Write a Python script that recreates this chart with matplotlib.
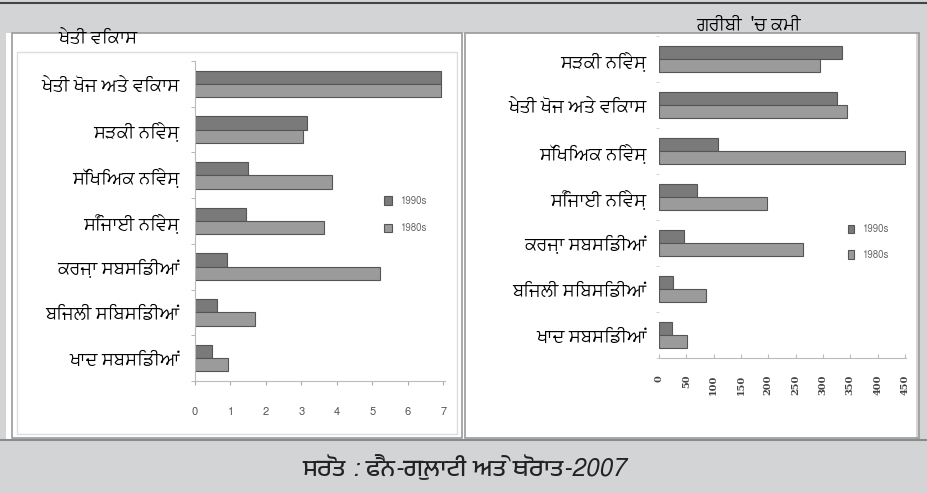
import matplotlib
matplotlib.use("Agg")
import matplotlib.pyplot as plt
from matplotlib.patches import Rectangle
import numpy as np

# data
left_title = "ਖੇਤੀ ਵਿਕਾਸ"
left_cats = ["ਖੇਤੀ ਖੋਜ ਅਤੇ ਵਿਕਾਸ", "ਸੜਕੀ ਨਿਵੇਸ਼", "ਸਿੱਖਿਅਕ ਨਿਵੇਸ਼", "ਸਿੰਜਾਈ ਨਿਵੇਸ਼",
             "ਕਰਜ਼ਾ ਸਬਸਿਡੀਆਂ", "ਬਿਜਲੀ ਸਿਬਸਿਡੀਆਂ", "ਖਾਦ ਸਬਸਿਡੀਆਂ"]
left_1990s = [6.95, 3.15, 1.5, 1.45, 0.9, 0.62, 0.47]
left_1980s = [6.95, 3.05, 3.85, 3.65, 5.22, 1.68, 0.92]
left_ticks = [0, 1, 2, 3, 4, 5, 6, 7]

right_title = "ਗਰੀਬੀ  'ਚ ਕਮੀ"
right_cats = ["ਸੜਕੀ ਨਿਵੇਸ਼", "ਖੇਤੀ ਖੋਜ ਅਤੇ ਵਿਕਾਸ", "ਸਿੱਖਿਅਕ ਨਿਵੇਸ਼", "ਸਿੰਜਾਈ ਨਿਵੇਸ਼",
              "ਕਰਜ਼ਾ ਸਬਸਿਡੀਆਂ", "ਬਿਜਲੀ ਸਿਬਸਿਡੀਆਂ", "ਖਾਦ ਸਬਸਿਡੀਆਂ"]
right_1990s = [335, 326, 108, 69, 46, 25, 24]
right_1980s = [295, 344, 450, 197, 263, 86, 51]
right_ticks = [0, 50, 100, 150, 200, 250, 300, 350, 400, 450]

series_names = ["1990s", "1980s"]
source_text = "ਸਰੋਤ : ਫੈਨ-ਗੁਲਾਟੀ ਅਤੇ ਥੋਰਾਤ-2007"

# FreeSans carries the Gurmukhi glyphs (upright only), Anek Gurmukhi as fallback
fonts = ["FreeSans", "Anek Gurmukhi", "DejaVu Sans"]
plt.rcParams["font.family"] = fonts

bg = "#d3d4d6"
c90 = "#7a7a7a"
c80 = "#9b9b9b"
edge = "#555555"

fig = plt.figure(figsize=(9.28, 4.93), dpi=100)
fig.patch.set_facecolor(bg)

W, H = 928, 493
def box(x0, y0, x1, y1, **kw):
    fig.patches.append(Rectangle((x0 / W, 1 - y1 / H), (x1 - x0) / W, (y1 - y0) / H,
                                 transform=fig.transFigure, zorder=-5, **kw))

# top rule and panel backgrounds
fig.add_artist(plt.Line2D([0, 1], [1 - 3 / H, 1 - 3 / H], color="#444444", lw=1.5))
box(6, 33, 916, 440, facecolor="white", edgecolor="none")
box(12, 33, 462, 438, facecolor="none", edgecolor="#9a9a9a", lw=1.2)
box(17, 52, 457, 434, facecolor="none", edgecolor="#dddddd", lw=1)
box(465, 33, 919, 438, facecolor="none", edgecolor="#9a9a9a", lw=1.2)
fig.add_artist(plt.Line2D([0, 1], [1 - 440 / H, 1 - 440 / H], color="#8a8a8a", lw=1.5))

h = 0.29

# left chart
ax1 = fig.add_axes([195 / W, 1 - 381 / H, 250 / W, 320 / H])
ax1.patch.set_alpha(0)
y = np.arange(len(left_cats))
ax1.barh(y - h / 2, left_1990s, h, color=c90, edgecolor=edge, lw=0.8, label=series_names[0])
ax1.barh(y + h / 2, left_1980s, h, color=c80, edgecolor=edge, lw=0.8, label=series_names[1])
ax1.set_ylim(len(left_cats) - 0.5, -0.5)
ax1.set_xlim(0, 7.05)
ax1.set_yticks(y)
ax1.set_yticklabels(left_cats, fontsize=13)
ax1.set_yticks(np.arange(len(left_cats) + 1) - 0.5, minor=True)
ax1.tick_params(axis="y", which="major", length=0, pad=11)
ax1.tick_params(axis="y", which="minor", length=3, color="#aaaaaa", direction="out")
ax1.set_xticks(left_ticks)
ax1.tick_params(axis="x", length=3, color="#aaaaaa", labelsize=8, labelcolor="#555555", pad=16)
for s in ["top", "right"]:
    ax1.spines[s].set_visible(False)
for s in ["left", "bottom"]:
    ax1.spines[s].set_color("#bbbbbb")
ax1.legend(loc="center left", bbox_to_anchor=(0.72, 0.52), frameon=False, fontsize=7,
           handlelength=0.9, handleheight=0.9, labelcolor="#666666", labelspacing=1.8)
fig.text(58 / W, 1 - 38 / H, left_title, fontsize=13, va="center", ha="left")

# right chart
ax2 = fig.add_axes([659 / W, 1 - 358 / H, 247 / W, 322 / H])
ax2.patch.set_alpha(0)
y = np.arange(len(right_cats))
ax2.barh(y - h / 2, right_1990s, h, color=c90, edgecolor=edge, lw=0.8, label=series_names[0])
ax2.barh(y + h / 2, right_1980s, h, color=c80, edgecolor=edge, lw=0.8, label=series_names[1])
ax2.set_ylim(len(right_cats) - 0.5, -0.5)
ax2.set_xlim(0, 452)
ax2.set_yticks(y)
ax2.set_yticklabels(right_cats, fontsize=13)
ax2.set_yticks(np.arange(len(right_cats) + 1) - 0.5, minor=True)
ax2.tick_params(axis="y", which="major", length=0, pad=9)
ax2.tick_params(axis="y", which="minor", length=2, color="#cccccc")
ax2.set_xticks(right_ticks)
ax2.set_xticklabels([str(t) for t in right_ticks], rotation=90, fontsize=7, family="DejaVu Serif",
                    fontweight="bold", color="#444444")
ax2.tick_params(axis="x", length=3, direction="in", color="#bbbbbb", pad=12)
for s in ["top", "right", "left"]:
    ax2.spines[s].set_visible(False)
ax2.spines["bottom"].set_color("#bbbbbb")
ax2.legend(loc="center left", bbox_to_anchor=(0.73, 0.36), frameon=False, fontsize=7,
           handlelength=0.6, handleheight=0.9, labelcolor="#666666", labelspacing=1.6)
fig.text(748 / W, 1 - 25 / H, right_title, fontsize=13, va="center", ha="center")

fig.text(464 / W, 1 - 468 / H, source_text, fontsize=17.5, style="italic", ha="center", va="center",
         color="#222222", family=fonts)

fig.savefig("out.png", dpi=100, facecolor=bg)
